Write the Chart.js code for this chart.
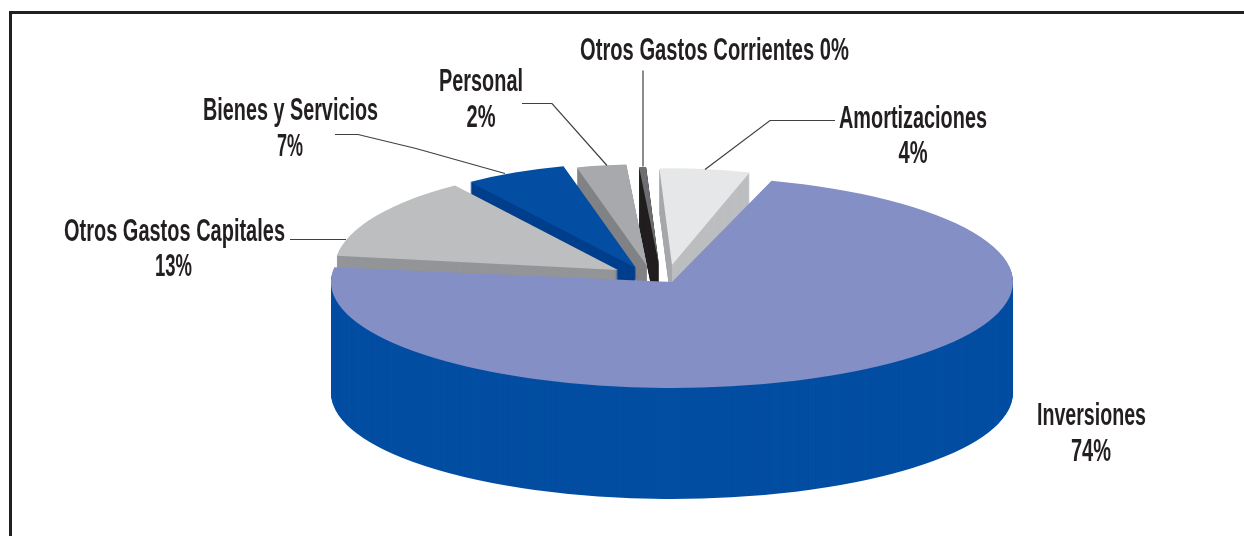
<!DOCTYPE html>
<html>
<head>
<meta charset="utf-8">
<title>Gastos</title>
<script src="https://cdn.jsdelivr.net/npm/chart.js@4"></script>
<style>
  html, body { margin: 0; background: #fff; overflow: hidden; }
  #frame { position: absolute; left: 9px; top: 11px; right: 0; bottom: 0; border-left: 3px solid #231f20; border-top: 3px solid #231f20; }
  #chart { position: absolute; left: 0; top: 0; }
</style>
</head>
<body>
<div id="frame"></div>
<canvas id="chart" width="1244" height="536"></canvas>
<script>
const categories = ['Otros Gastos Capitales', 'Bienes y Servicios', 'Personal', 'Otros Gastos Corrientes', 'Amortizaciones', 'Inversiones']
// printed percentages
const printedPercents = [13, 7, 2, 0, 4, 74]
// slice sizes as measured on the picture (they don't quite follow the printed numbers)
const sliceShares = [13.05, 5.69, 2.86, 0.42, 5.47, 72.5]

const topColors = ['#bcbec0', '#034ea2', '#a7a9ac', '#6d6e71', '#e6e7e8', '#838fc5']
const wallLeftColors = ['#939598', '#003f8c', '#808285', '#231f20', '#a7a9ac', '#034ea2']
const wallRightColors = ['#939598', '#003f8c', '#808285', '#231f20', '#bcbec0', '#034ea2']

// pulled out slices: shift of the tip in px, radius, flattening, wall height
const shiftX = [-54, -36, -25, -13, 0, 0]
const shiftY = [-12, -14, -16, -17, -17, 0]
const radii = [284, 289, 280, 270, 266, 341]
const flatten = [2.75, 2.75, 2.75, 2.75, 2.75, 3.22]
const depths = [25, 30, 30, 60, 45, 111]

// back to front, the big slice has to come last
const drawOrder = [4, 3, 2, 1, 0, 5]

// text: [text, center x, baseline y, width]
const labelLines = [
  ['Otros Gastos Corrientes ' + printedPercents[3] + '%', 714.5, 60, 269],
  [categories[2], 481, 91, 84],
  [printedPercents[2] + '%', 481, 127, 29],
  [categories[4], 913, 128, 148],
  [printedPercents[4] + '%', 913, 163, 29],
  [categories[1], 290.5, 120, 175],
  [printedPercents[1] + '%', 290, 156, 26],
  [categories[0], 174.5, 241, 221],
  [printedPercents[0] + '%', 173.5, 276, 37],
  [categories[5], 1091.5, 425, 109],
  [printedPercents[5] + '%', 1091, 461, 40],
]

const leaderLines = [
  [[290, 239], [346, 239]],
  [[335, 134], [358, 134], [416, 148], [505, 173]],
  [[522, 103], [552, 103], [607, 165]],
  [[643, 70], [643, 166]],
  [[835, 120], [770, 120], [705, 169]],
]

const pie3d = {
  id: 'pie3d',
  beforeDatasetsDraw(chart) {
    const ctx = chart.ctx
    const arcs = chart.getDatasetMeta(0).data

    const place = (el, i, drop) => {
      const f = radii[i] / el.outerRadius
      ctx.translate(el.x + shiftX[i], el.y + shiftY[i] + drop)
      ctx.scale(f, f / flatten[i])
      ctx.translate(-el.x, -el.y)
    }

    drawOrder.forEach(i => {
      const el = arcs[i]
      const top = el.options
      const tipX = el.x + shiftX[i]

      // walls, a stack of copies of the slice, split left/right at the tip
      ;[[0, tipX, wallLeftColors[i]], [tipX, 1244, wallRightColors[i]]].forEach(([x0, x1, color]) => {
        ctx.save()
        ctx.beginPath()
        ctx.rect(x0, 0, x1 - x0, 536)
        ctx.clip()
        el.options = { ...top, backgroundColor: color }
        for (let d = depths[i]; d > 0; d--) {
          ctx.save()
          place(el, i, d)
          el.draw(ctx)
          ctx.restore()
        }
        ctx.restore()
      })
      el.options = top

      ctx.save()
      place(el, i, 0)
      el.draw(ctx)
      ctx.restore()
    })
    return false
  },
  afterDraw(chart) {
    const ctx = chart.ctx
    ctx.save()
    ctx.strokeStyle = '#404041'
    ctx.lineWidth = 1.2
    leaderLines.forEach(pts => {
      ctx.beginPath()
      pts.forEach((p, i) => i ? ctx.lineTo(p[0], p[1] + 0.5) : ctx.moveTo(p[0], p[1] + 0.5))
      ctx.stroke()
    })
    ctx.fillStyle = '#231f20'
    ctx.font = 'bold 32px "Liberation Sans Narrow", "Liberation Sans", sans-serif'
    ctx.textAlign = 'center'
    ctx.textBaseline = 'alphabetic'
    labelLines.forEach(([text, x, y, w]) => ctx.fillText(text, x, y, w))
    ctx.restore()
  },
}

new Chart(document.getElementById('chart'), {
  type: 'pie',
  data: {
    labels: categories,
    datasets: [{
      data: sliceShares,
      backgroundColor: topColors,
      borderWidth: 0,
      clip: false,
    }],
  },
  options: {
    responsive: false,
    animation: false,
    events: [],
    rotation: -82,
    radius: 341,
    layout: { padding: { left: 100, top: 28 } },
    plugins: { legend: { display: false }, tooltip: { enabled: false } },
  },
  plugins: [pie3d],
})
</script>
</body>
</html>
